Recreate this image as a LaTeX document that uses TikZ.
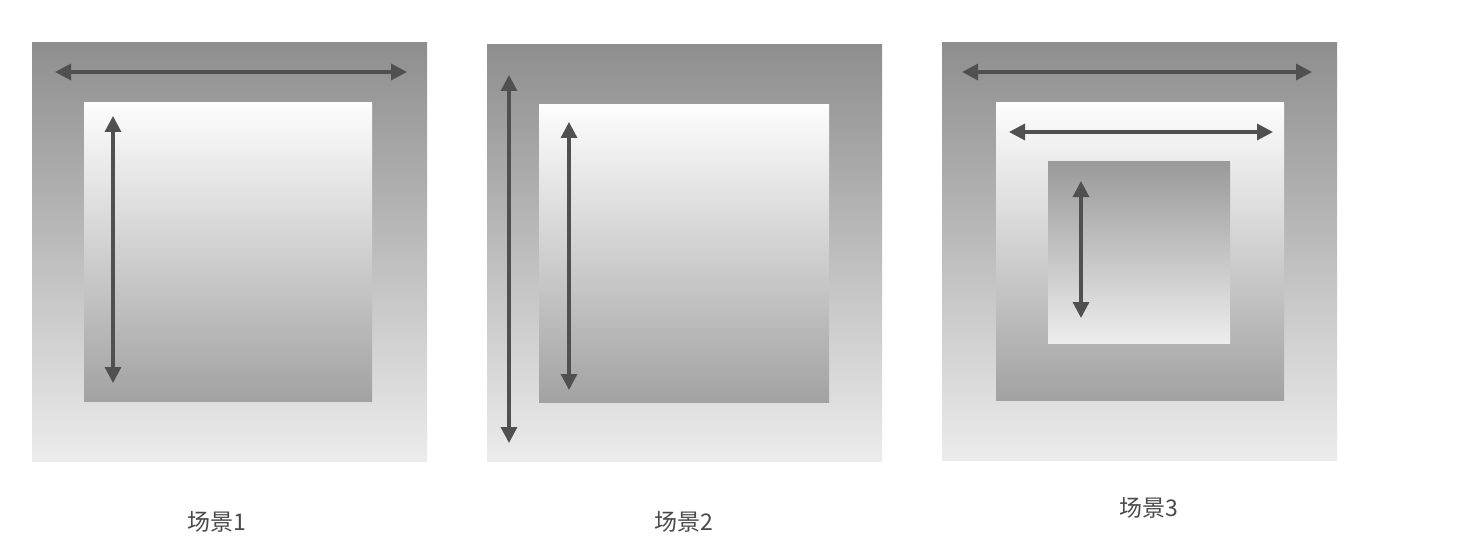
\documentclass[tikz,border=0pt]{standalone}
\usepackage{fontspec}
\newfontfamily\cjk{Noto Sans CJK SC}
\usetikzlibrary{arrows.meta}
\definecolor{outtop}{HTML}{8E8E8E}
\definecolor{outbot}{HTML}{ECECEC}
\definecolor{midtop}{HTML}{FDFDFD}
\definecolor{midbot}{HTML}{A2A2A2}
\definecolor{arrowc}{HTML}{505050}
\definecolor{labelc}{HTML}{4A4A4A}
\tikzset{
  outerbox/.style={top color=outtop,bottom color=outbot},
  midbox/.style={top color=midtop,bottom color=midbot},
  innerbox/.style={top color=midbot!95!black,bottom color=outbot!95!white},
  dimarrow/.style={draw=arrowc,line width=1.6pt,{Triangle[length=8pt,width=8pt]}-{Triangle[length=8pt,width=8pt]}},
  caption/.style={font=\cjk\fontsize{11.5pt}{13pt}\selectfont,text=labelc,inner sep=0pt}
}
\begin{document}
\begin{tikzpicture}[x=0.5pt,y=-0.5pt]
\useasboundingbox[fill=white] (0,0) rectangle (1473,551);
% scene 1
\shade[outerbox] (32,43) rectangle (427,461);
\shade[midbox] (84,103) rectangle (372,401);
\coordinate (h1a) at (55,72); \coordinate (h1b) at (407,72);
\coordinate (v1a) at (113,116); \coordinate (v1b) at (113,383);
\draw[dimarrow] (h1a) -- (h1b);
\draw[dimarrow] (v1a) -- (v1b);
\node[caption] (c1) at (217,522) {场景1};
% scene 2
\shade[outerbox] (487,45) rectangle (882,461);
\shade[midbox] (539,105) rectangle (829,402);
\coordinate (v2a) at (509,75); \coordinate (v2b) at (509,443);
\coordinate (v2c) at (569,122); \coordinate (v2d) at (569,390);
\draw[dimarrow] (v2a) -- (v2b);
\draw[dimarrow] (v2c) -- (v2d);
\node[caption] (c2) at (684,522) {场景2};
% scene 3
\shade[outerbox] (942,43) rectangle (1337,460);
\shade[midbox] (996,103) rectangle (1284,400);
\shade[innerbox] (1048,162) rectangle (1230,343);
\coordinate (h3a) at (962,72); \coordinate (h3b) at (1312,72);
\coordinate (h3c) at (1009,132); \coordinate (h3d) at (1273,132);
\coordinate (v3a) at (1081,181); \coordinate (v3b) at (1081,318);
\draw[dimarrow] (h3a) -- (h3b);
\draw[dimarrow] (h3c) -- (h3d);
\draw[dimarrow] (v3a) -- (v3b);
\node[caption] (c3) at (1149,508) {场景3};
\end{tikzpicture}
\end{document}
